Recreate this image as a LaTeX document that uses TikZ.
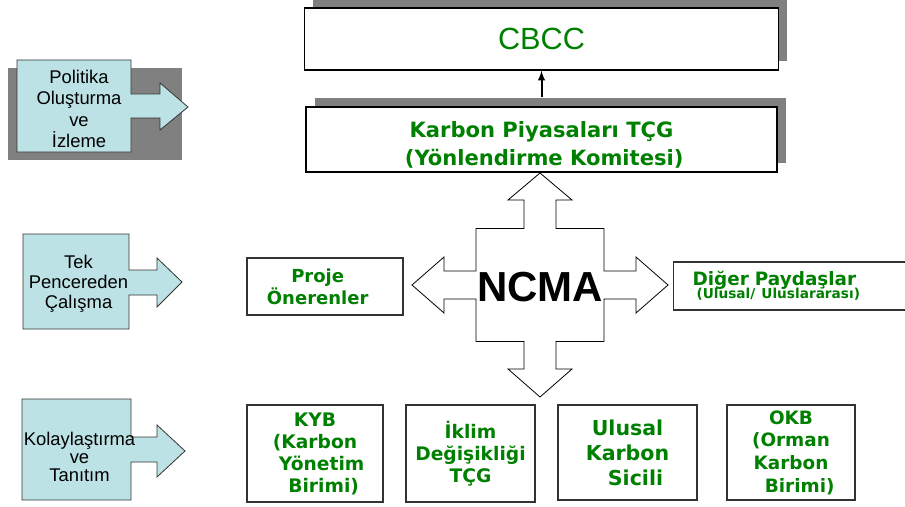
\documentclass[tikz,border=0pt]{standalone}
\usepackage{fontspec}
\setmainfont{Liberation Sans}
\newfontfamily\boxfont{DejaVu Sans}
\usepackage{tikz}
\usetikzlibrary{arrows, positioning, shadows}

\definecolor{boxgreen}{RGB}{0,128,0}
\definecolor{calloutblue}{RGB}{189,226,229}
\definecolor{shadowgray}{RGB}{128,128,128}

\begin{document}
\begin{tikzpicture}[
        x=0.75pt, y=-0.75pt,
        box/.style={rectangle, draw=black!80, line width=0.8pt, fill=white, align=center, inner sep=0pt},
        topbox/.style={box, draw=black, line width=1pt, drop shadow={shadow xshift=6.5pt, shadow yshift=6.5pt, fill=shadowgray, opacity=1}},
        greentext/.style={text=boxgreen, font=\boxfont\bfseries\fontsize{14}{16.5}\selectfont},
        callout/.style={draw=black!80, line width=0.6pt, fill=calloutblue},
        callouttext/.style={align=center, font=\fontsize{13.8}{16}\selectfont},
        quadarrow/.style={draw=black, line width=0.6pt, fill=white},
        arrow/.style={line width=1.5pt, ->, >=latex}
    ]
    \useasboundingbox (0,0) rectangle (905,506);

    % Left side: callouts
    \fill[shadowgray] (8,68) rectangle (182,160);
    \draw[callout] (17,60) -- (131,60) -- (131,94) -- (160,94) -- (160,83) -- (188,107) -- (160,130) -- (160,118) -- (131,118) -- (131,152) -- (17,152) -- cycle;
    \node[callouttext] (politika) at (79,109) {Politika\\Oluşturma\\ve\\İzleme};

    \draw[callout] (23,234) -- (129,234) -- (129,270) -- (157,270) -- (157,258) -- (182,282) -- (157,307) -- (157,295) -- (129,295) -- (129,329) -- (23,329) -- cycle;
    \node[callouttext, font=\fontsize{13.8}{15}\selectfont] (tekpencere) at (78.5,284) {Tek\\Pencereden\\Çalışma};

    \draw[callout] (22,399) -- (131,399) -- (131,437) -- (157,437) -- (157,425) -- (185,451) -- (157,477) -- (157,462) -- (131,462) -- (131,500) -- (22,500) -- cycle;
    \node[callouttext, font=\fontsize{13.8}{13.5}\selectfont] (kolay) at (79.5,457) {Kolaylaştırma\\ve\\Tanıtım};

    % Top boxes
    \node[topbox, text=boxgreen, font=\fontsize{23}{27}\selectfont, minimum width=355.5pt, minimum height=46.5pt] (cbcc) at (541.5,39) {CBCC};
    \node[topbox, greentext, font=\boxfont\bfseries\fontsize{15.8}{21}\selectfont, minimum width=353.25pt, minimum height=48.75pt] (tcg) at (541.5,139.5) {\rule{0pt}{20pt}Karbon Piyasaları TÇG\\\hspace*{4pt}(Yönlendirme Komitesi)};

    % NCMA
    \draw[quadarrow, shift={(540,285)}] (0,-112) -- (32,-85) -- (16,-85) -- (16,-56.5) -- (64,-56.5) -- (64,-14) -- (96,-14) -- (96,-28) -- (128,0) -- (96,28) -- (96,14) -- (64,14) -- (64,56.5) -- (16,56.5) -- (16,84) -- (32,84) -- (0,112) -- (-32,84) -- (-16,84) -- (-16,56.5) -- (-64,56.5) -- (-64,14) -- (-96,14) -- (-96,28) -- (-128,0) -- (-96,-28) -- (-96,-14) -- (-64,-14) -- (-64,-56.5) -- (-16,-56.5) -- (-16,-85) -- (-32,-85) -- cycle;
    \node[font=\bfseries\fontsize{31.5}{36}\selectfont] (ncma) at (540,287) {NCMA};

    \node[box, greentext, font=\boxfont\bfseries\fontsize{13.5}{16.5}\selectfont, minimum width=117pt, minimum height=42.75pt] (proje) at (325,286.5) {Proje\hspace*{11pt}\\Önerenler\hspace*{11pt}};
    \node[box, greentext, font=\boxfont\bfseries\fontsize{13.8}{16.5}\selectfont, anchor=west, align=left, text width=149pt, inner xsep=14.25pt, minimum height=36pt] (diger) at (673,286) {Diğer Paydaşlar\\[-6.5pt]\hspace*{3pt}{\fontsize{10.25}{10}\selectfont (Ulusal/ Uluslararası)}};

    % Bottom boxes
    \node[box, greentext, minimum width=102pt, minimum height=72.75pt] (kyb) at (315,453.5) {KYB\\(Karbon\\\hspace*{10pt}Yönetim\\\hspace*{13pt}Birimi)};
    \node[box, greentext, minimum width=96.75pt, minimum height=72.75pt] (iklim) at (470.5,453.5) {İklim\\Değişikliği\\TÇG};
    \node[box, greentext, font=\boxfont\bfseries\fontsize{15.4}{18.75}\selectfont, minimum width=104.25pt, minimum height=71.25pt] (ulusal) at (627.5,452.5) {Ulusal\\Karbon\\\hspace*{12pt}Sicili};
    \node[box, greentext, font=\boxfont\bfseries\fontsize{13.8}{17}\selectfont, minimum width=96pt, minimum height=71.25pt] (okb) at (791,452.5) {OKB\\(Orman\hspace*{12pt}\\Karbon\\\hspace*{13pt}Birimi)};

    % Connection
    \draw[arrow] ([yshift=6.75pt]tcg.north) -- (cbcc.south);

\end{tikzpicture}
\end{document}
